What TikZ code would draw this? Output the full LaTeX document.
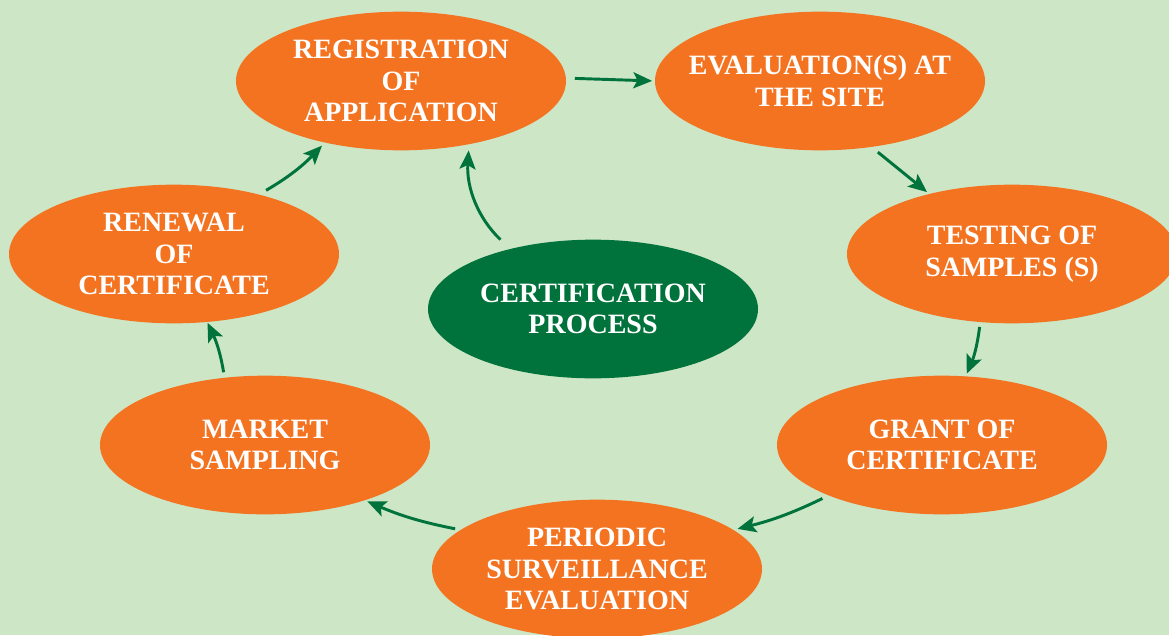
\documentclass[tikz,border=0pt]{standalone}
\usepackage{fontspec}
\setmainfont{Liberation Serif}
\usetikzlibrary{shapes.geometric,arrows.meta}
\definecolor{bgc}{HTML}{CDE6C6}
\definecolor{orangec}{HTML}{F37321}
\definecolor{greenc}{HTML}{00733C}
\tikzset{
  stage/.style={ellipse, fill=orangec, draw=none, inner xsep=-50pt, inner ysep=0pt,
    minimum width=247.5pt, minimum height=104pt, text=white, align=center,
    font=\bfseries\fontsize{21}{23.6}\selectfont},
  hub/.style={stage, fill=greenc},
  flow/.style={draw=greenc, line width=2.2pt,
    -{Stealth[length=14pt,width=12pt,inset=3pt]}}
}
\begin{document}
\begin{tikzpicture}[x=0.75pt,y=-0.75pt]
\fill[bgc] (0,0) rectangle (1169,635);
\useasboundingbox (0,0) rectangle (1169,635);
\node[stage] (reg) at (401,81) {REGISTRATION\\OF\\APPLICATION};
\node[stage] (eval) at (820,81) {EVALUATION(S) AT\\THE SITE};
\node[stage] (test) at (1012,254) {TESTING OF\\SAMPLES (S)};
\node[stage] (grant) at (942,445) {GRANT OF\\CERTIFICATE};
\node[stage] (peri) at (597,569) {PERIODIC\\SURVEILLANCE\\EVALUATION};
\node[stage] (mark) at (265,445) {MARKET\\SAMPLING};
\node[stage] (ren) at (174,254) {RENEWAL\\OF\\CERTIFICATE};
\node[hub] (cert) at (593,309) {CERTIFICATION\\PROCESS};

\draw[flow, shorten <=6.5pt, shorten >=2pt] (reg.1) -- (eval.180);
\draw[flow, shorten <=6pt, shorten >=2pt] (eval.-52.6) -- (test.144.5);
\draw[flow, shorten <=3.5pt, shorten >=2pt] (test.245) to[bend left=8] (grant.71);
\draw[flow, shorten <=5pt, shorten >=3pt] (grant.204.4) to[bend left=6] (peri.16.3);
\draw[flow, shorten <=4pt, shorten >=2pt] (peri.164.4) to[bend left=6] (mark.-29);
\draw[flow, shorten <=4pt, shorten >=0.5pt] (mark.121.4) to[bend right=8] (ren.-64.4);
\draw[flow, shorten <=6pt, shorten >=3pt] (ren.35.8) to[bend right=8] (reg.219.4);
\draw[flow, shorten <=10pt, shorten >=4.5pt] (cert.144.4) to[bend left=25] (reg.-43);
\end{tikzpicture}
\end{document}
